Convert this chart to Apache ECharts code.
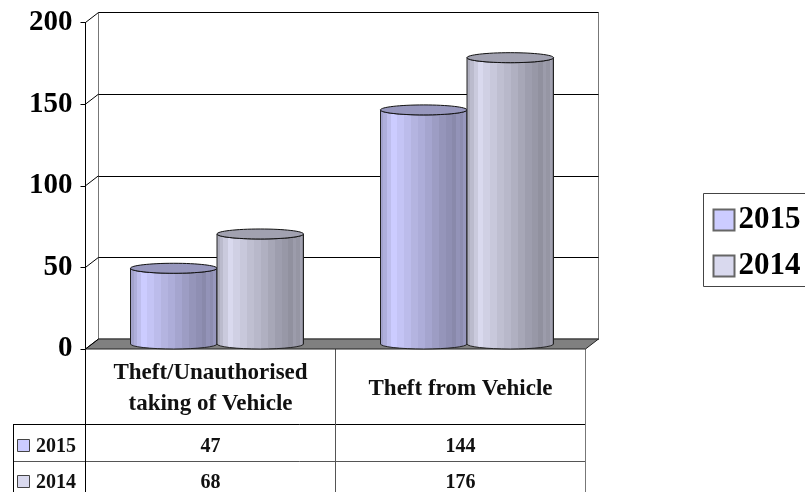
<!DOCTYPE html>
<html>
<head>
<meta charset="utf-8">
<style>html,body{margin:0;padding:0;background:#fff;overflow:hidden}#c{width:805px;height:492px}</style>
<script src="https://cdn.jsdelivr.net/npm/echarts@6/dist/echarts.min.js"></script>
</head>
<body>
<div id="c"></div>
<script>
const categories = ['Theft/Unauthorised\ntaking of Vehicle', 'Theft from Vehicle'];
const seriesNames = ['2015', '2014'];
const values2015 = [47, 144];
const values2014 = [68, 176];
const seriesColors = ['#ccccff', '#d9d9ee'];
const yTicks = [0, 50, 100, 150, 200];

const SERIF = '"Liberation Serif", serif';
const DX = 13, DY = -10;            // depth of the 3D box
const rowY = [424, 461];            // table row edges
const rowMid = [447, 483];
const shades = [[0,.80],[.04,.86],[.08,.93],[.13,1],[.19,.96],[.27,.92],[.35,.88],[.43,.85],[.51,.81],[.59,.77],[.67,.73],[.75,.70],[.82,.67],[.87,.72],[.91,.69],[.95,.74],[.98,.62],[1,.62]];

function mult(hex, k) {
  const n = parseInt(hex.slice(1), 16);
  const c = s => Math.round(((n >> s) & 255) * k);
  return `rgb(${c(16)},${c(8)},${c(0)})`;
}
function bandGradient(hex) {
  const stops = [];
  for (let i = 0; i < shades.length - 1; i++) {
    const col = mult(hex, shades[i][1]);
    stops.push({offset: shades[i][0], color: col}, {offset: shades[i + 1][0], color: col});
  }
  return new echarts.graphic.LinearGradient(0, 0, 1, 0, stops);
}

function cylinder(seriesIdx, hex) {
  return function (params, api) {
    const top = api.coord([api.value(0), api.value(1)]);
    const base = api.coord([api.value(0), 0]);
    const w = api.size([1, 0])[0] * 0.346;
    const rx = w / 2, ry = 5;
    const cx = top[0] + (seriesIdx === 0 ? -rx : rx) + DX / 2;
    const ty = top[1] + DY / 2 + 1, by = base[1] + DY / 2;
    const l = cx - rx, r = cx + rx;
    return {
      type: 'group',
      children: [
        {type: 'path',
         shape: {pathData: `M${l} ${ty}A${rx} ${ry} 0 0 0 ${r} ${ty}L${r} ${by}A${rx} ${ry} 0 0 1 ${l} ${by}Z`},
         style: {fill: bandGradient(hex), stroke: '#222', lineWidth: 1}},
        {type: 'ellipse', shape: {cx: cx, cy: ty, rx: rx, ry: ry},
         style: {fill: mult(hex, 0.74), stroke: '#111', lineWidth: 1}}
      ]
    };
  };
}

const lineEls = [];
function hline(x1, x2, y, c) { lineEls.push({type: 'line', silent: true, shape: {x1, y1: y, x2, y2: y}, style: {stroke: c, lineWidth: 1}}); }
function vline(x, y1, y2, c) { lineEls.push({type: 'line', silent: true, shape: {x1: x, y1, x2: x, y2}, style: {stroke: c, lineWidth: 1}}); }
hline(13, 585.5, rowY[0] + .5, '#000');
hline(13, 585.5, rowY[1] + .5, '#555');
vline(13.5, rowY[0], 492, '#000');
vline(85.5, 349, 492, '#000');
vline(335.5, 349, 492, '#555');
vline(585.5, 349, 492, '#777');
seriesNames.forEach((name, i) => {
  lineEls.push({type: 'rect', silent: true, shape: {x: 17.5, y: rowMid[i] - 7.5, width: 12, height: 12},
    style: {fill: seriesColors[i], stroke: '#444', lineWidth: 1}});
  lineEls.push({type: 'text', silent: true, style: {text: name, x: 36, y: rowMid[i], fill: '#111',
    font: 'bold 20px ' + SERIF, textAlign: 'left', textVerticalAlign: 'middle'}});
});

const tableData = [];
[values2015, values2014].forEach((vals, row) => vals.forEach((v, cat) => tableData.push([cat, row, v])));

const option = {
  animation: false,
  backgroundColor: '#fff',
  grid: [
    {left: 85.5, top: 22.5, width: 500, height: 326.5},
    {left: 98.5, top: 12.5, width: 500, height: 326.5, show: true, borderColor: '#777', borderWidth: 1, backgroundColor: 'transparent'}
  ],
  xAxis: [
    {type: 'category', gridIndex: 0, data: categories,
     axisLine: {show: false}, axisTick: {show: false},
     axisLabel: {margin: 9, interval: 0,
       formatter: v => {
         const parts = v.split('\n');
         return parts.map(p => `{${parts.length > 1 ? 'two' : 'one'}|${p}}`).join('\n');
       },
       rich: {
         two: {color: '#111', fontFamily: SERIF, fontWeight: 'bold', fontSize: 23, lineHeight: 31},
         one: {color: '#111', fontFamily: SERIF, fontWeight: 'bold', fontSize: 23, lineHeight: 62}
       }}},
    {type: 'category', gridIndex: 1, data: categories, show: false}
  ],
  yAxis: [
    {type: 'value', gridIndex: 0, min: 0, max: 200, interval: 50,
     axisLine: {show: true, lineStyle: {color: '#000', width: 1}},
     axisTick: {show: true, length: 5, lineStyle: {color: '#000', width: 1}},
     splitLine: {show: false},
     axisLabel: {color: '#000', fontFamily: SERIF, fontWeight: 'bold', fontSize: 29, margin: 13, padding: [5, 0, 0, 0]}},
    {type: 'value', gridIndex: 1, min: 0, max: 200, interval: 50,
     axisLine: {show: false}, axisTick: {show: false}, axisLabel: {show: false},
     splitLine: {show: true, lineStyle: {color: '#000', width: 1}}}
  ],
  legend: {
    orient: 'vertical', left: 703.5, top: 193.5,
    data: seriesNames, selectedMode: false, icon: 'rect',
    itemWidth: 21, itemHeight: 21, itemGap: 15,
    padding: [11, 40, 5, 9],
    borderColor: '#444', borderWidth: 1, backgroundColor: '#fff',
    textStyle: {color: '#000', fontFamily: SERIF, fontWeight: 'bold', fontSize: 31, padding: [2, 0, 0, -1]}
  },
  graphic: {elements: lineEls},
  series: [
    {type: 'custom', name: 'frame', xAxisIndex: 0, yAxisIndex: 0, clip: false, z: 1, silent: true,
     data: yTicks.map(v => [0, v]),
     renderItem: function (params, api) {
       const x0 = params.coordSys.x;
       const y = api.coord([0, api.value(1)])[1];
       const children = [];
       if (api.value(1) === 0) {
         children.push({type: 'polygon',
           shape: {points: [[x0, y], [x0 + DX, y + DY], [x0 + params.coordSys.width + DX, y + DY], [x0 + params.coordSys.width, y]]},
           style: {fill: '#808080', stroke: '#222', lineWidth: 1}});
       }
       children.push({type: 'line', shape: {x1: x0, y1: y, x2: x0 + DX, y2: y + DY}, style: {stroke: '#000', lineWidth: 1}});
       return {type: 'group', children};
     }},
    {type: 'custom', name: seriesNames[0], xAxisIndex: 0, yAxisIndex: 0, clip: false, z: 3, silent: true,
     itemStyle: {color: seriesColors[0], borderColor: '#666', borderWidth: 1},
     data: values2015.map((v, i) => [i, v]), renderItem: cylinder(0, seriesColors[0])},
    {type: 'custom', name: seriesNames[1], xAxisIndex: 0, yAxisIndex: 0, clip: false, z: 4, silent: true,
     itemStyle: {color: seriesColors[1], borderColor: '#666', borderWidth: 1},
     data: values2014.map((v, i) => [i, v]), renderItem: cylinder(1, seriesColors[1])},
    {type: 'custom', name: 'table', xAxisIndex: 0, yAxisIndex: 0, clip: false, z: 5, silent: true,
     data: tableData,
     encode: {x: 0, y: 2},
     renderItem: function (params, api) {
       const x = api.coord([api.value(0), 0])[0];
       return {type: 'text', style: {text: String(api.value(2)), x: x, y: rowMid[api.value(1)],
         fill: '#111', font: 'bold 20px ' + SERIF, textAlign: 'center', textVerticalAlign: 'middle'}};
     }}
  ]
};
const chart = echarts.init(document.getElementById('c'), null, {renderer: 'canvas'});
chart.setOption(option);
</script>
</body>
</html>
